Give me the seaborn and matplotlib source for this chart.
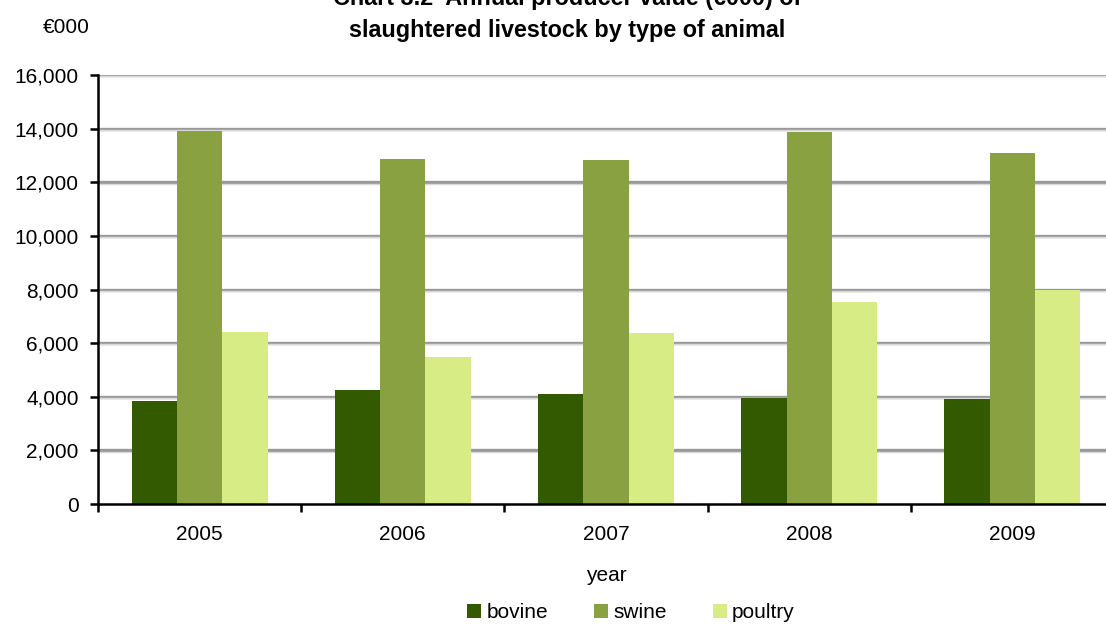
import numpy as np
import pandas as pd
import matplotlib
matplotlib.use("Agg")
import matplotlib.pyplot as plt
import seaborn as sns

# values (EUR 000)
years = ["2005", "2006", "2007", "2008", "2009"]
bovine = [3830, 4240, 4090, 3950, 3900]
swine = [13900, 12860, 12820, 13870, 13100]
poultry = [6430, 5470, 6360, 7520, 8000]
animals = ["bovine", "swine", "poultry"]
colours = ["#345a00", "#8aa142", "#d7ec85"]

df = pd.DataFrame({"year": years, "bovine": bovine, "swine": swine, "poultry": poultry})
long_df = df.melt(id_vars="year", var_name="animal", value_name="value")

sns.set_style("white")
plt.rcParams["font.family"] = ["Liberation Sans", "DejaVu Sans"]
plt.rcParams.update({"text.color": "black", "axes.labelcolor": "black",
                     "xtick.color": "black", "ytick.color": "black"})

W, H = 1106, 625
fig = plt.figure(figsize=(W / 100, H / 100), dpi=100)
# plot area runs a little past the right edge of the image, as in the original
ax = fig.add_axes([98 / W, 1 - 504 / H, 1016 / W, 429 / H])

sns.barplot(data=long_df, x="year", y="value", hue="animal", hue_order=animals,
            palette=colours, width=0.67, saturation=1, linewidth=0,
            ax=ax, zorder=3)

ax.set_ylim(0, 16000)
ax.set_xlim(-0.5, 4.5)
ax.set_yticks(np.arange(0, 16001, 2000))
ax.set_yticklabels([f"{v:,}" for v in range(0, 16001, 2000)], fontsize=15)
for y in range(2000, 16001, 2000):
    ax.axhline(y, color="#999999", lw=2.4, zorder=1)
    ax.axhline(y - 50, color="#d9d9d9", lw=1, zorder=1)

ax.set_xticks(range(5))
ax.set_xticklabels(years, fontsize=15)
ax.set_xticks(np.arange(-0.5, 4.6, 1), minor=True)
ax.tick_params(axis="x", which="major", bottom=True, length=0, pad=15)
ax.tick_params(axis="x", which="minor", bottom=True, length=6, width=1.8,
               color="black", direction="out")
ax.tick_params(axis="y", left=True, length=6, width=1.8, color="black",
               direction="out", pad=8)

for s in ["top", "right"]:
    ax.spines[s].set_visible(False)
for s in ["left", "bottom"]:
    ax.spines[s].set_color("black")
    ax.spines[s].set_linewidth(1.8)
    ax.spines[s].set_zorder(4)

ax.set_xlabel("year", fontsize=15, labelpad=16)
ax.set_ylabel("")

handles, labels = ax.get_legend_handles_labels()
ax.get_legend().remove()
fig.legend(handles, labels, loc="center", bbox_to_anchor=(631 / W, 1 - 613 / H),
           ncol=3, frameon=False, fontsize=15, handlelength=0.68,
           handleheight=0.68, handletextpad=0.25, columnspacing=2.2,
           borderaxespad=0, borderpad=0)

fig.text(567 / W, 1 - 5 / H, "Chart 3.2  Annual producer value (€000) of",
         ha="center", va="baseline", fontsize=16.8, fontweight="bold")
fig.text(567 / W, 1 - 37 / H, "slaughtered livestock by type of animal",
         ha="center", va="baseline", fontsize=16.8, fontweight="bold")
fig.text(66 / W, 1 - 33 / H, "€000", ha="center", va="baseline", fontsize=15)

fig.savefig("out.png", dpi=100)
